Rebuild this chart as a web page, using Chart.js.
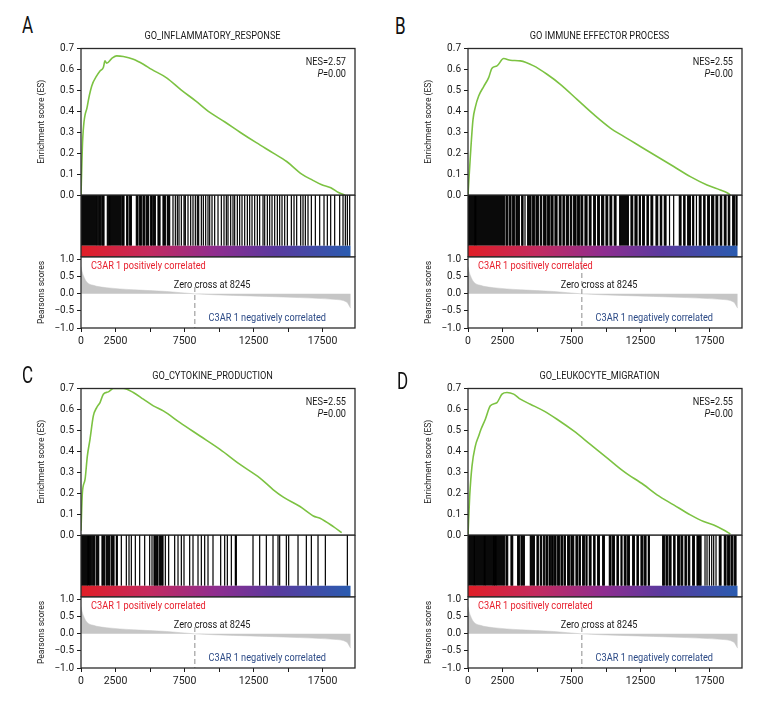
<!DOCTYPE html>
<html>
<head>
<meta charset="utf-8">
<script src="https://cdn.jsdelivr.net/npm/chart.js@4.4.0/dist/chart.umd.min.js"></script>
<style>
  body { margin: 0; background: #fff; }
  #fig { position: relative; width: 780px; height: 720px; overflow: hidden; }
  .panel { position: absolute; width: 362px; height: 360px; }
  .panel canvas { position: absolute; left: 0; }
  .letter { position: absolute; font-size: 23px; line-height: 1; color: #111;
            font-family: Roboto, 'Liberation Sans', sans-serif;
            transform: scaleX(0.74); transform-origin: left top; }
</style>
</head>
<body>
<div id="fig"></div>
<script>
// ---------- data ----------
const panelLetters = ['A', 'B', 'C', 'D'];
const panelTitles = ['GO_INFLAMMATORY_RESPONSE', 'GO IMMUNE EFFECTOR PROCESS', 'GO_CYTOKINE_PRODUCTION', 'GO_LEUKOCYTE_MIGRATION'];
const nesValues = ['2.57', '2.55', '2.55', '2.55'];
const pValues = ['0.00', '0.00', '0.00', '0.00'];
const xTickValues = [0, 2500, 5000, 7500, 10000, 12500, 15000, 17500];
const xTickLabels = [0, 2500, 7500, 12500, 17500];
const esTickValues = [0, 0.1, 0.2, 0.3, 0.4, 0.5, 0.6, 0.7];
const rankTickValues = [-1, -0.5, 0, 0.5, 1];

const X_MAX = 19850;      // end of x axis
const N_GENES = 19540;    // length of ranked list
const ZERO_CROSS = 8245;

// running enrichment score
const esRankA = [0, 121, 459, 773, 1135, 1377, 1618, 1739, 1860, 2222, 2584, 3067, 3792, 4516, 5120, 6200, 7293, 8300, 9225, 10400, 11520, 12700, 13935, 14900, 15990, 16800, 17400, 18100, 18650, 19127];
const esScoreA = [0, 0.264, 0.425, 0.52, 0.569, 0.593, 0.609, 0.641, 0.63, 0.652, 0.665, 0.662, 0.649, 0.625, 0.6, 0.56, 0.5, 0.45, 0.4, 0.35, 0.3, 0.25, 0.2, 0.16, 0.1, 0.07, 0.05, 0.035, 0.012, 0];

const esRankB = [0, 169, 362, 531, 773, 1135, 1497, 1739, 2101, 2584, 3067, 3792, 4758, 5724, 6690, 7897, 9105, 10312, 11278, 12486, 13693, 14901, 16108, 17316, 18282, 18765, 19006];
const esScoreB = [0, 0.184, 0.36, 0.42, 0.473, 0.518, 0.561, 0.606, 0.617, 0.652, 0.644, 0.641, 0.617, 0.577, 0.529, 0.457, 0.385, 0.32, 0.28, 0.232, 0.184, 0.136, 0.088, 0.048, 0.024, 0.011, 0];

const esRankC = [0, 97, 290, 459, 652, 894, 1135, 1377, 1618, 1980, 2343, 3067, 3792, 4516, 5241, 5965, 7173, 8622, 10070, 11519, 12968, 13934, 14659, 15867, 16833, 17316, 18282, 18886];
const esScoreC = [0.02, 0.2, 0.264, 0.377, 0.457, 0.569, 0.609, 0.633, 0.673, 0.684, 0.7, 0.7, 0.681, 0.649, 0.617, 0.593, 0.537, 0.473, 0.409, 0.337, 0.272, 0.216, 0.181, 0.136, 0.091, 0.08, 0.04, 0.011];

const esRankD = [0, 121, 290, 531, 773, 942, 1256, 1618, 2101, 2463, 2825, 3309, 3792, 4516, 5482, 6448, 7656, 8863, 10071, 11278, 12727, 13693, 14901, 16108, 17074, 17799, 18524, 19006];
const esScoreD = [0, 0.184, 0.329, 0.425, 0.473, 0.505, 0.553, 0.617, 0.633, 0.673, 0.681, 0.673, 0.649, 0.625, 0.593, 0.553, 0.497, 0.433, 0.369, 0.304, 0.24, 0.192, 0.144, 0.096, 0.064, 0.048, 0.024, 0.005];

// gene set hits: dense runs [start, end] and single hits (rank)
const hitRunsA = [[0, 1183], [1280, 1425], [1521, 1666], [1908, 2004], [2077, 2874], [2970, 3115], [3309, 3405], [3526, 3647], [4009, 4130], [4250, 4371], [4492, 4613], [4733, 4902], [5047, 5144], [5240, 5385], [5579, 5724], [5941, 6110], [6255, 6424]];
const hitsA = [6665, 6834, 6979, 7100, 7269, 7462, 7559, 7752, 7945, 8114, 8283, 8428, 8525, 8718, 8863, 9032, 9201, 9322, 9491, 9684, 9926, 10167, 10360, 10529, 10650, 10843, 11012, 11133, 11326, 11495, 11664, 11858, 12051, 12220, 12389, 12582, 12775, 12944, 13186, 13307, 13500, 13669, 13838, 14031, 14224, 14393, 14562, 14756, 14949, 15239, 15432, 15625, 15915, 16084, 16253, 16446, 16688, 16977, 17291, 17605, 17846, 18088, 18378, 18740, 18982, 19151, 19296, 19465];

const hitRunsB = [[0, 480], [560, 2632], [2753, 2874], [2995, 3115], [3236, 3357], [3478, 3719], [3888, 3985], [4323, 4564], [4685, 4806], [4927, 5095], [5240, 5337], [5482, 5651], [5772, 5893], [6013, 6158], [6303, 6448], [6617, 6738], [6883, 6979], [7124, 7269], [7414, 7511], [7656, 7825], [7945, 8066], [8187, 8308], [8477, 8622], [8791, 8911], [9105, 9225], [9394, 9515], [9684, 9829], [9998, 10119], [10288, 10409], [10602, 10723], [10988, 11616], [11809, 11930], [12099, 12244], [12413, 12486], [12655, 12775], [12969, 13065], [13258, 13379], [13621, 13741], [13935, 14031], [14224, 14345], [15311, 15432], [15625, 15722], [15915, 16108], [16277, 16350], [16760, 16881], [17074, 17171], [17364, 17485], [17654, 17799], [17968, 18088], [18282, 18378], [18572, 18692], [18861, 18958], [19175, 19296], [19416, 19489]];
const hitsB = [4130, 14600, 14900, 16550];

const hitRunsC = [[0, 507], [580, 749], [845, 990], [1111, 1280], [1521, 1715], [1835, 2077], [2198, 2391], [2560, 2632], [5289, 5579], [5699, 5941]];
const hitsC = [2922, 3284, 3478, 3647, 3936, 4250, 4613, 4975, 5144, 6110, 6351, 6786, 7028, 7269, 7462, 7873, 8114, 8477, 8718, 8960, 9201, 9563, 10119, 10409, 10602, 10892, 11181, 11254, 12461, 12944, 13427, 13910, 14273, 14393, 14876, 15045, 15722, 16325, 16688, 17171, 17702, 19296];

const hitRunsD = [[0, 459], [531, 1183], [1232, 1787], [1860, 1956], [2029, 2632], [2753, 2874], [3115, 3236], [3598, 3719], [3840, 4081], [4516, 4806], [4999, 5095], [5240, 5337], [5482, 5530], [5651, 5772], [5893, 5965], [6062, 6158], [6255, 6376], [6496, 6617], [6738, 6859], [6979, 7052], [7221, 7342], [7462, 7656], [7825, 7945], [8066, 8138], [8308, 8428], [8549, 8622], [8791, 8911], [9105, 9201], [9394, 9515], [9757, 9877], [10240, 10360], [10481, 10602], [10795, 10892], [11085, 11157], [11326, 11447], [11568, 11689], [11930, 12051], [12244, 12341], [12534, 12655], [12775, 12896], [13065, 13138], [14104, 14224], [14345, 14466], [14587, 14707], [14901, 14997], [15191, 15311], [15432, 15553], [15722, 15818], [15963, 16060], [16277, 16398], [16592, 16688], [16760, 16881], [18209, 18330], [18572, 18692], [18813, 18934], [19054, 19175], [19296, 19416]];
const hitsD = [17171, 17316, 17485, 17654, 17799, 17968];

// ranked list metric (Pearson score)
const rankPos = [0, 60, 169, 410, 894, 1860, 3792, 6207, 8245, 11037, 13452, 15867, 18282, 19248, 19490, 19540];
const rankScore = [0.8, 0.68, 0.54, 0.35, 0.25, 0.18, 0.12, 0.07, 0, -0.045, -0.075, -0.11, -0.16, -0.24, -0.39, -0.42];

// ---------- style ----------
const FONT = "Roboto, 'Liberation Sans', sans-serif";
const SQUEEZE = 0.8;     // horizontal squeeze for the condensed look of annotations
const INK = '#1a1a1a';
const GREEN = '#7cc242';
const RED = '#e8202e';
const BLUE = '#2c4a86';
const CB_STOPS = [0, 0.25, 0.5, 0.72, 1];
const CB_COLORS = ['#e01e26', '#c42a5e', '#8f2d8f', '#5a3a9e', '#2a5cb0'];
const HIT_BASE = 0.18;   // top of the colour bar inside the hit strip

Chart.defaults.font.family = FONT;
Chart.defaults.color = INK;

const panels = [
    { esX: esRankA, esY: esScoreA, runs: hitRunsA, hits: hitsA, left: 0, top: 0, lx: 22, ly: 14, dashTop: 0.2 },
    { esX: esRankB, esY: esScoreB, runs: hitRunsB, hits: hitsB, left: 387, top: 0, lx: 8, ly: 15, dashTop: 1.08 },
    { esX: esRankC, esY: esScoreC, runs: hitRunsC, hits: hitsC, left: 0, top: 340, lx: 22, ly: 24, dashTop: 0.2 },
    { esX: esRankD, esY: esScoreD, runs: hitRunsD, hits: hitsD, left: 387, top: 340, lx: 10, ly: 30, dashTop: 0.2 },
];

// frame around each plot area
const framePlugin = {
    id: 'frame',
    afterDatasetsDraw(chart) {
        const { ctx, chartArea: a } = chart;
        ctx.save();
        ctx.strokeStyle = '#2b2b2b';
        ctx.lineWidth = 1.3;
        ctx.strokeRect(a.left, a.top, a.right - a.left, a.bottom - a.top);
        ctx.restore();
    }
};

// text placed at data coordinates
function textLayer(items) {
    return {
        id: 'textLayer',
        afterDatasetsDraw(chart) {
            const { ctx, scales } = chart;
            items.forEach(it => {
                const px = scales.x.getPixelForValue(it.x);
                const py = scales.y.getPixelForValue(it.y);
                const parts = it.parts || [{ text: it.text }];
                ctx.save();
                ctx.textBaseline = 'middle';
                ctx.textAlign = 'left';
                ctx.fillStyle = it.color || INK;
                const fonts = parts.map(p => (p.italic ? 'italic ' : '') + it.size + 'px ' + FONT);
                const widths = parts.map((p, i) => { ctx.font = fonts[i]; return ctx.measureText(p.text).width * SQUEEZE; });
                const total = widths.reduce((s, w) => s + w, 0);
                let sx = it.align === 'right' ? px - total : it.align === 'center' ? px - total / 2 : px;
                parts.forEach((p, i) => {
                    ctx.save();
                    ctx.font = fonts[i];
                    ctx.translate(sx, py);
                    ctx.scale(SQUEEZE, 1);
                    ctx.fillText(p.text, 0, 0);
                    ctx.restore();
                    sx += widths[i];
                });
                ctx.restore();
            });
        }
    };
}

function addCanvas(wrap, top, height) {
    const c = document.createElement('canvas');
    c.width = 362;
    c.height = height;
    c.style.top = top + 'px';
    wrap.appendChild(c);
    return c;
}

const tickMarks = { display: true, drawOnChartArea: false, drawTicks: true, tickLength: 4, color: INK };
const setTicks = values => scale => { scale.ticks = values.map(v => ({ value: v })); };

const fig = document.getElementById('fig');

panels.forEach((p, k) => {
    const wrap = document.createElement('div');
    wrap.className = 'panel';
    wrap.style.left = p.left + 'px';
    wrap.style.top = p.top + 'px';
    fig.appendChild(wrap);

    const letter = document.createElement('div');
    letter.className = 'letter';
    letter.textContent = panelLetters[k];
    letter.style.left = p.lx + 'px';
    letter.style.top = p.ly + 'px';
    wrap.appendChild(letter);

    // ==========================================
    // 1. Enrichment score curve
    // ==========================================
    new Chart(addCanvas(wrap, 0, 206), {
        type: 'line',
        data: {
            datasets: [{
                data: p.esX.map((x, i) => ({ x: x, y: p.esY[i] })),
                borderColor: GREEN,
                borderWidth: 1.6,
                pointRadius: 0,
                cubicInterpolationMode: 'monotone',
                fill: false,
            }]
        },
        options: {
            responsive: false,
            animation: false,
            events: [],
            layout: { padding: { left: 0, right: 7, top: 48.5, bottom: 11 } },
            plugins: { legend: { display: false }, tooltip: { enabled: false } },
            scales: {
                x: { type: 'linear', min: 0, max: X_MAX, display: false },
                y: {
                    min: 0, max: 0.7,
                    afterBuildTicks: setTicks(esTickValues),
                    ticks: { callback: v => Number(v).toFixed(1), font: { size: 10 }, color: INK, padding: 3 },
                    grid: tickMarks,
                    border: { display: false },
                    title: { display: true, text: 'Enrichment score (ES)', font: { size: 8.5 }, color: INK, padding: { top: 37, bottom: 0 } },
                    afterFit: s => { s.width = 81; }
                }
            }
        },
        plugins: [framePlugin, textLayer([
            { x: 9529, y: 0.757, text: panelTitles[k], align: 'center', size: 11.5 },
            { x: 19200, y: 0.635, text: 'NES=' + nesValues[k], align: 'right', size: 11.5 },
            { x: 19200, y: 0.579, parts: [{ text: 'P', italic: true }, { text: '=' + pValues[k] }], align: 'right', size: 11.5 },
        ])]
    });

    // ==========================================
    // 2. Hit strip + colour bar
    // ==========================================
    const hitPts = [];
    p.runs.forEach(r => {
        hitPts.push({ x: r[0], y: HIT_BASE }, { x: r[0], y: 1 }, { x: r[1], y: 1 }, { x: r[1], y: HIT_BASE }, { x: r[1], y: null });
    });
    p.hits.forEach(h => {
        hitPts.push({ x: h, y: HIT_BASE }, { x: h, y: 1 }, { x: h, y: null });
    });
    hitPts.sort((a, b) => a.x - b.x);

    new Chart(addCanvas(wrap, 195, 62), {
        type: 'line',
        data: {
            datasets: [
                {
                    data: [{ x: 0, y: HIT_BASE }, { x: N_GENES, y: HIT_BASE }],
                    borderWidth: 0,
                    pointRadius: 0,
                    fill: { value: 0 },
                    backgroundColor: ctx => {
                        const ch = ctx.chart;
                        if (!ch.chartArea) return CB_COLORS[0];
                        const xs = ch.scales.x;
                        const g = ch.ctx.createLinearGradient(xs.getPixelForValue(0), 0, xs.getPixelForValue(N_GENES), 0);
                        CB_STOPS.forEach((s, i) => g.addColorStop(s, CB_COLORS[i]));
                        return g;
                    }
                },
                {
                    data: hitPts,
                    borderColor: '#000',
                    backgroundColor: '#0a0a0a',
                    borderWidth: 1.2,
                    pointRadius: 0,
                    spanGaps: false,
                    fill: { value: HIT_BASE },
                }
            ]
        },
        options: {
            responsive: false,
            animation: false,
            events: [],
            layout: { padding: { left: 81, right: 7, top: 0, bottom: 0 } },
            plugins: { legend: { display: false }, tooltip: { enabled: false } },
            scales: {
                x: { type: 'linear', min: 0, max: X_MAX, display: false },
                y: { min: 0, max: 1, display: false }
            }
        },
        plugins: [framePlugin]
    });

    // ==========================================
    // 3. Ranked list metric
    // ==========================================
    new Chart(addCanvas(wrap, 247, 110), {
        type: 'line',
        data: {
            datasets: [
                {
                    data: [{ x: ZERO_CROSS, y: p.dashTop }, { x: ZERO_CROSS, y: -1 }],
                    borderColor: '#a0a0a0',
                    borderWidth: 1.2,
                    borderDash: [5, 3],
                    pointRadius: 0,
                    fill: false,
                },
                {
                    data: rankPos.map((x, i) => ({ x: x, y: rankScore[i] })),
                    borderColor: '#c4c4c4',
                    borderWidth: 0.5,
                    backgroundColor: '#c6c6c6',
                    pointRadius: 0,
                    cubicInterpolationMode: 'monotone',
                    fill: 'origin',
                }
            ]
        },
        options: {
            responsive: false,
            animation: false,
            events: [],
            layout: { padding: { left: 0, right: 7, top: 10, bottom: 0 } },
            plugins: { legend: { display: false }, tooltip: { enabled: false } },
            scales: {
                x: {
                    type: 'linear', min: 0, max: X_MAX,
                    afterBuildTicks: setTicks(xTickValues),
                    ticks: {
                        autoSkip: false, maxRotation: 0, minRotation: 0,
                        font: { size: 10.5 }, color: INK, padding: 3,
                        callback: v => xTickLabels.indexOf(Math.round(Number(v))) !== -1 ? String(Math.round(Number(v))) : ''
                    },
                    grid: tickMarks,
                    border: { display: false },
                    afterFit: s => { s.height = 29; }
                },
                y: {
                    min: -1, max: 1.08,
                    afterBuildTicks: setTicks(rankTickValues),
                    ticks: { callback: v => Number(v).toFixed(1).replace('-', '\u2212'), font: { size: 10 }, color: INK, padding: 3 },
                    grid: tickMarks,
                    border: { display: false },
                    title: { display: true, text: 'Pearsons scores', font: { size: 8.5 }, color: INK, padding: { top: 37, bottom: 0 } },
                    afterFit: s => { s.width = 81; }
                }
            }
        },
        plugins: [framePlugin, textLayer([
            { x: 725, y: 0.80, text: 'C3AR 1 positively correlated', color: RED, align: 'left', size: 11.5 },
            { x: 9500, y: 0.27, text: 'Zero cross at 8245', align: 'center', size: 11.5 },
            { x: 17750, y: -0.725, text: 'C3AR 1 negatively correlated', color: BLUE, align: 'right', size: 11.5 },
        ])]
    });
});
</script>
</body>
</html>
